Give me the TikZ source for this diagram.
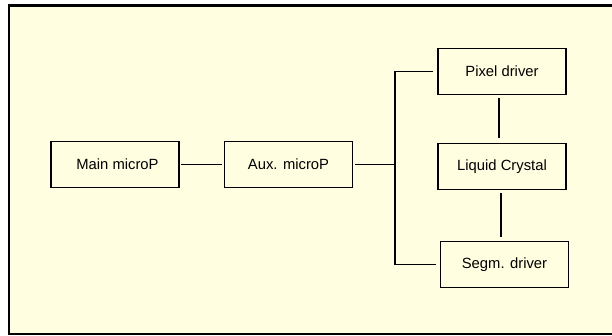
\documentclass[tikz,border=0pt]{standalone}
\usepackage{fontspec}
\setmainfont{Liberation Sans}
\definecolor{bgyellow}{RGB}{255,254,225}
\begin{document}
\begin{tikzpicture}[x=1pt,y=-1pt,
  blockbox/.style={draw=black,line width=1.7pt,minimum width=128pt,minimum height=46pt,inner sep=0pt,font=\fontsize{14.8}{16}\selectfont},
  conn/.style={draw=black,line width=1.6pt}]
\useasboundingbox (0,0) rectangle (612,336);
\fill[white] (0,0) rectangle (612,336);
\draw[line width=2.2pt,fill=bgyellow] (9,5.5) rectangle (640,334);
\node[blockbox] (main) at (115,164.5) {\hspace*{5pt}Main microP};
\node[blockbox] (aux) at (288.5,164.5) {Aux. microP};
\node[blockbox] (pixel) at (502,71.5) {Pixel driver};
\node[blockbox] (lc) at (502,166.5) {Liquid Crystal};
\node[blockbox] (segm) at (504.5,264.5) {Segm. driver};
\coordinate (j) at (395,164.5);
\draw[conn,shorten <=1pt,shorten >=2pt] (main.east) -- (aux.west);
\draw[conn,shorten <=2pt] (aux.east) -- (j);
\draw[conn,shorten <=4pt,shorten >=4pt] (pixel.west) -- (j |- pixel.west) -- (j |- segm.west) -- (segm.west);
\draw[conn,shorten <=3pt,shorten >=5pt] ([xshift=-3pt]pixel.south) -- ([xshift=-3pt]pixel.south |- lc.north);
\draw[conn,shorten <=3pt,shorten >=4pt] ([xshift=-1pt]lc.south) -- ([xshift=-1pt]lc.south |- segm.north);
\end{tikzpicture}
\end{document}
